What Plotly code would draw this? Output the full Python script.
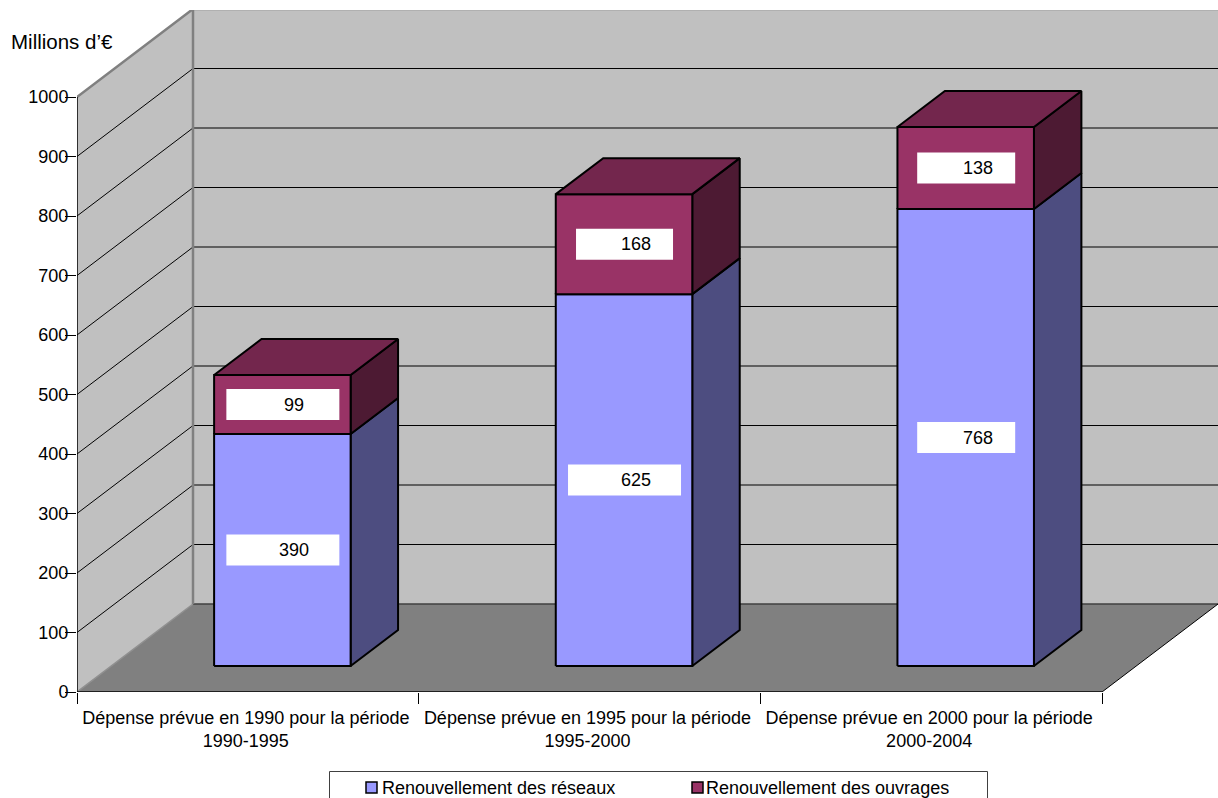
import plotly.graph_objects as go

categories = ["Dépense prévue en 1990 pour la période<br>1990-1995",
              "Dépense prévue en 1995 pour la période<br>1995-2000",
              "Dépense prévue en 2000 pour la période<br>2000-2004"]
reseaux = [390, 625, 768]
ouvrages = [99, 168, 138]
series_names = ["Renouvellement des réseaux", "Renouvellement des ouvrages"]
y_ticks = list(range(0, 1001, 100))
unit_label = "Millions d’€"

# geometry of the oblique projection (pixels -> data units)
W, H = 1218, 798
L, R, T, B = 77, 0, 10, 106
PX_X = 1025 / 3          # pixels per category
PX_Y = 0.595             # pixels per value unit
XMAX = (W - L - R) / PX_X
YMAX = (H - T - B) / PX_Y
DX = 116 / PX_X          # full floor depth, x
DY = 88 / PX_Y           # full floor depth, y
BAR_W = 136.5 / PX_X
Z0, Z1 = 26 / 88, 62 / 88  # front and back of bars, as floor depth fractions
FONT = "Liberation Sans, Arial, sans-serif"
FS = 18


def px(x):
    return (x - L) / (W - L - R)


def py(y):
    return (H - B - y) / (H - T - B)


fig = go.Figure()


def poly(xs, ys, fill, line="rgba(0,0,0,0)", width=0, name=None):
    fig.add_trace(go.Scatter(
        x=list(xs) + [xs[0]], y=list(ys) + [ys[0]], mode="lines", fill="toself",
        fillcolor=fill, line=dict(color=line, width=width), hoverinfo="skip",
        showlegend=False, name=name, cliponaxis=False))


def seg(xs, ys, color, width):
    fig.add_trace(go.Scatter(x=xs, y=ys, mode="lines", line=dict(color=color, width=width),
                             hoverinfo="skip", showlegend=False, cliponaxis=False))


WALL, FLOOR = "#C0C0C0", "#808080"
top = y_ticks[-1]
poly([DX, XMAX, XMAX, DX], [DY, DY, top + DY, top + DY], WALL)
poly([0, DX, DX, 0], [0, DY, top + DY, top], WALL)
poly([0, 3, 3 + DX, DX], [0, 0, DY, DY], FLOOR)

for v in y_ticks[1:-1]:
    seg([0, DX, XMAX], [v, v + DY, v + DY], "#000000", 1)
seg([DX, XMAX], [DY, DY], "#404040", 1.5)
seg([0, DX], [0, DY], "#909090", 1.5)
seg([0, DX, XMAX], [top, top + DY, top + DY], "#808080", 2.5)
seg([DX, DX], [DY, top + DY], "#808080", 2.5)
seg([3, 3 + DX], [0, DY], "#000000", 1)
seg([0, 3], [0, 0], "#000000", 1.5)
seg([0, 0], [0, top], "#000000", 1.5)

EDGE = dict(line="#000000", width=2)
C = {"front": ("#9999FF", "#993366"), "side": ("#4D4D80", "#4D1A33"), "top": ("#4D4D80", "#73264D")}
box_w = {0: (113, 113), 1: (113, 97), 2: (98, 98)}
shapes, annots = [], []

for i in range(len(categories)):
    xc = i + 0.5
    x1 = xc + 137 / PX_X / 2 + Z0 * DX
    x0 = x1 - BAR_W
    xb = x1 + (Z1 - Z0) * DX
    y0 = Z0 * DY
    yb = (Z1 - Z0) * DY
    base = y0
    for k, val in enumerate((reseaux[i], ouvrages[i])):
        y_hi = base + val
        poly([x1, xb, xb, x1], [base, base + yb, y_hi + yb, y_hi], C["side"][k], **EDGE)
        poly([x0, x1, x1, x0], [base, base, y_hi, y_hi], C["front"][k], **EDGE,
             name=series_names[k])
        if k == 1:
            poly([x0, x1, xb, x0 + (xb - x1)], [y_hi, y_hi, y_hi + yb, y_hi + yb], C["top"][k], **EDGE)
        xm, ym = (x0 + x1) / 2, base + val / 2
        w = box_w[i][k]
        shapes.append(dict(type="rect", xref="x", yref="y", xsizemode="pixel", ysizemode="pixel",
                           xanchor=xm, yanchor=ym, x0=-w / 2 + 0.5, x1=w / 2 + 0.5, y0=-15.5, y1=15.5,
                           fillcolor="#FFFFFF", line=dict(width=0), layer="above"))
        annots.append(dict(x=xm, y=ym, xref="x", yref="y", text=str(val), showarrow=False,
                           xshift=12, font=dict(family=FONT, size=FS, color="#000000")))
        base = y_hi

# legend
shapes.append(dict(type="rect", xref="paper", yref="paper", x0=px(329.5), x1=px(987.5),
                   y0=py(815), y1=py(771.5), line=dict(color="#404040", width=1), layer="above"))
for sx, tx, k in ((366, 380, 0), (692, 704, 1)):
    shapes.append(dict(type="rect", xref="paper", yref="paper", x0=px(sx), x1=px(sx + 11),
                       y0=py(793), y1=py(782), fillcolor=C["front"][k],
                       line=dict(color="#000000", width=1.5), layer="above"))
    annots.append(dict(x=px(tx), y=py(788), xref="paper", yref="paper", xanchor="left", yanchor="middle",
                       text=series_names[k], showarrow=False,
                       font=dict(family=FONT, size=FS, color="#000000")))

annots.append(dict(x=px(9), y=py(42), xref="paper", yref="paper", xanchor="left", yanchor="middle",
                   text=unit_label, showarrow=False, font=dict(family=FONT, size=20.5, color="#000000")))

fig.update_layout(
    width=W, height=H, margin=dict(l=L, r=R, t=T, b=B, pad=0), autosize=False,
    paper_bgcolor="#FFFFFF", plot_bgcolor="#FFFFFF", showlegend=False,
    font=dict(family=FONT, size=FS, color="#000000"), shapes=shapes, annotations=annots,
    xaxis=dict(range=[0, XMAX], showgrid=False, zeroline=False, showline=False,
               tickmode="array", tickvals=[i + 0.5 - 2 / PX_X for i in range(3)], ticktext=categories,
               ticks="", ticklabelstandoff=13, tickfont=dict(family=FONT, size=FS),
               minor=dict(tickmode="array", tickvals=[0, 1, 2, 3], ticks="outside", ticklen=11,
                          tickcolor="#000000", tickwidth=1, showgrid=False)),
    yaxis=dict(range=[0, YMAX], showgrid=False, zeroline=False, showline=False,
               tickmode="array", tickvals=y_ticks, ticks="outside", ticklen=11, tickcolor="#000000",
               tickwidth=1, ticklabelstandoff=-7, tickfont=dict(family=FONT, size=FS)),
)

fig.write_html("out.html", config=dict(displayModeBar=False),
               post_script="document.body.style.margin='0';document.body.style.overflow='hidden';")
